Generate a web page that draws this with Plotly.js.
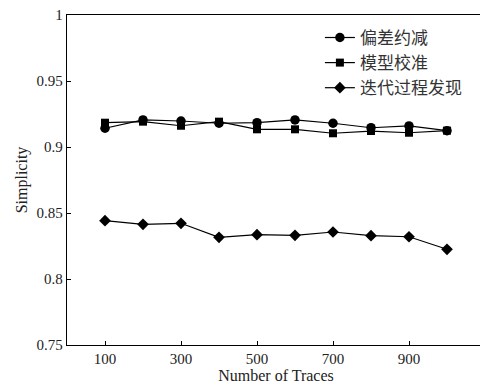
<!DOCTYPE html>
<html>
<head>
<meta charset="utf-8">
<script src="https://cdn.plot.ly/plotly-3.0.1.min.js"></script>
<style>
html,body{margin:0;padding:0;overflow:hidden;background:#fff;}
#chart{width:485px;height:388px;}
</style>
</head>
<body>
<div id="chart"></div>
<script>
const traces = [100, 200, 300, 400, 500, 600, 700, 800, 900, 1000];
const seriesNames = ["偏差约减", "模型校准", "迭代过程发现"];
const biasReduction = [0.9142, 0.9205, 0.9197, 0.9180, 0.9184, 0.9205, 0.9180, 0.9146, 0.9160, 0.9124];
const modelCalibration = [0.9184, 0.9192, 0.9161, 0.9192, 0.9134, 0.9134, 0.9104, 0.9121, 0.9108, 0.9124];
const iterativeDiscovery = [0.8442, 0.8414, 0.8422, 0.8316, 0.8336, 0.8331, 0.8356, 0.8328, 0.8320, 0.8225];
const xTicks = [100, 300, 500, 700, 900];
const yTicks = [0.75, 0.8, 0.85, 0.9, 0.95, 1];

const serif = "Liberation Serif, Times New Roman, serif";
const mk = (y, name, symbol, size) => ({
  x: traces, y: y, name: name, type: "scatter", mode: "lines+markers",
  line: {color: "#000", width: 1.2},
  marker: {symbol: symbol, size: size, color: "#000"}
});

const data = [
  mk(biasReduction, seriesNames[0], "circle", 9.5),
  mk(modelCalibration, seriesNames[1], "square", 8),
  mk(iterativeDiscovery, seriesNames[2], "diamond", 9)
];

const layout = {
  width: 485, height: 388,
  margin: {l: 67, r: 0, t: 15, b: 43},
  paper_bgcolor: "#fff", plot_bgcolor: "#fff",
  showlegend: true,
  legend: {
    x: 0.605, y: 0.985, xanchor: "left", yanchor: "top",
    bgcolor: "rgba(0,0,0,0)", borderwidth: 0,
    font: {family: "Noto Sans CJK SC, sans-serif", size: 17, color: "#333"},
    tracegroupgap: 0
  },
  xaxis: {
    range: [0, 1100], tickvals: xTicks, ticks: "inside", ticklen: 4,
    tickcolor: "#000", showline: true, linecolor: "#000", linewidth: 1.2,
    mirror: true, showgrid: false, zeroline: false,
    tickfont: {family: serif, size: 15, color: "#222"},
    title: {text: "Number of Traces", font: {family: serif, size: 16, color: "#222"}, standoff: 2}
  },
  yaxis: {
    range: [0.75, 1], tickvals: yTicks, ticks: "inside", ticklen: 4,
    tickcolor: "#000", showline: true, linecolor: "#000", linewidth: 1.2,
    mirror: true, showgrid: false, zeroline: false,
    tickfont: {family: serif, size: 15, color: "#222"},
    title: {text: "Simplicity", font: {family: serif, size: 16, color: "#222"}, standoff: 5}
  }
};

Plotly.newPlot("chart", data, layout, {displayModeBar: false, staticPlot: true});
</script>
</body>
</html>
